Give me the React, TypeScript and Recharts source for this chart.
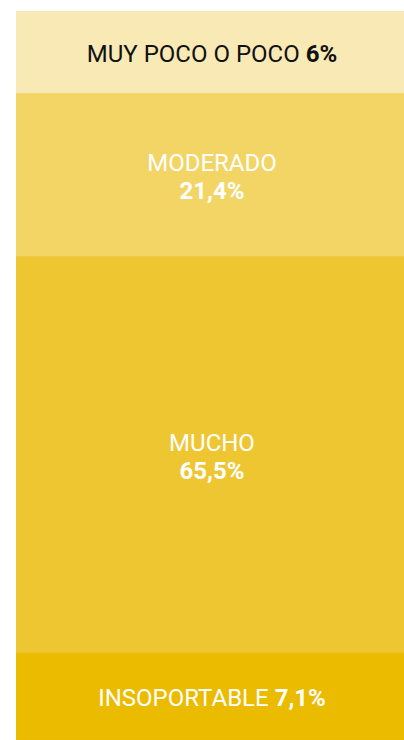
import React from 'react';
import { BarChart, Bar, XAxis, YAxis, LabelList } from 'recharts';

// Bottom-to-top stacking order
const categories = ['INSOPORTABLE', 'MUCHO', 'MODERADO', 'MUY POCO O POCO'];
const values = [7.1, 65.5, 21.4, 6];
const colors = ['#ebbb00', '#eec632', '#f3d566', '#f9e9b4'];
const textColors = ['#ffffff', '#ffffff', '#ffffff', '#111111'];
const twoLine = [false, true, true, false];

// every band gets a fixed extra share so small bands still hold their label
const BAND_PAD = 9.5;

const keys = categories.map((_, i) => `k${i}`);
const row: Record<string, number | string> = { name: 'total' };
keys.forEach((k, i) => { row[k] = values[i]; });
const data = [row];

const fmt = (v: number) => `${String(v).replace('.', ',')}%`;

const makeLabel = (i: number) => (props: any) => {
  const { x, y, width, height } = props;
  const cx = x + width / 2;
  const cy = y + height / 2;
  const fill = textColors[i];
  const style = { fontFamily: 'Roboto, sans-serif', fontSize: 24 };
  if (twoLine[i]) {
    return (
      <text x={cx} textAnchor="middle" fill={fill} style={style}>
        <tspan x={cx} y={cy - 3}>{categories[i]}</tspan>
        <tspan x={cx} y={cy + 25} fontWeight={700}>{fmt(values[i])}</tspan>
      </text>
    );
  }
  return (
    <text x={cx} y={cy + 10} textAnchor="middle" fill={fill} style={style}>
      {categories[i]} <tspan fontWeight={700}>{fmt(values[i])}</tspan>
    </text>
  );
};

export default function App() {
  const total = values.reduce((s, v) => s + v + BAND_PAD, 0);
  return (
    <div style={{ position: 'fixed', left: 0, top: 0, width: 404, height: 740, overflow: 'hidden', background: '#fff' }}>
      <div style={{ position: 'absolute', left: 16, top: 11 }}>
        <BarChart width={392} height={729} data={data} margin={{ top: 0, right: 0, bottom: 0, left: 0 }} barCategoryGap={0}>
          <XAxis dataKey="name" hide />
          <YAxis hide domain={[0, total]} />
          {keys.map((k, i) => (
            <Bar
              key={k}
              dataKey={(d: any) => d[k] + BAND_PAD}
              stackId="a"
              fill={colors[i]}
              stroke={colors[i]}
              strokeWidth={0.6}
              isAnimationActive={false}
            >
              <LabelList content={makeLabel(i)} />
            </Bar>
          ))}
        </BarChart>
      </div>
    </div>
  );
}
